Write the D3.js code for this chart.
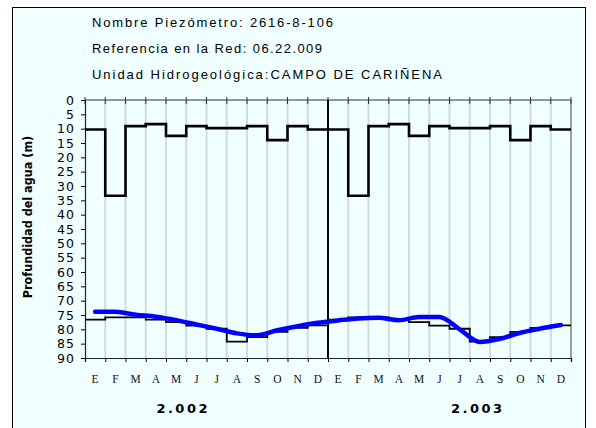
<!DOCTYPE html>
<html>
<head>
<meta charset="utf-8">
<script src="https://cdnjs.cloudflare.com/ajax/libs/d3/7.8.5/d3.min.js"></script>
<style>
  body { margin: 0; background: #fff; }
  svg { display: block; }
</style>
</head>
<body>
<div id="grafico"></div>
<script>
// datos
var cabecera = [
  "Nombre Piezómetro: 2616-8-106",
  "Referencia en la Red: 06.22.009",
  "Unidad Hidrogeológica:CAMPO DE CARIÑENA"
];
var meses = ["E","F","M","A","M","J","J","A","S","O","N","D",
             "E","F","M","A","M","J","J","A","S","O","N","D"];
var anios = ["2.002", "2.003"];
var yTicks = [0,5,10,15,20,25,30,35,40,45,50,55,60,65,70,75,80,85,90];

// escalon superior (grueso) y escalon inferior (fino), profundidad en m
var serieSuperior = [10.3,33.4,9.1,8.4,12.5,9.1,9.8,9.8,9.1,14.0,9.1,10.3,
                     10.3,33.4,9.1,8.4,12.5,9.1,9.8,9.8,9.1,14.0,9.1,10.3];
var serieInferior = [76.6,75.8,75.8,76.6,77.5,78.7,79.8,84.3,82.7,80.9,79.5,78.6,
                     76.6,75.8,75.8,76.6,77.5,78.7,79.8,84.3,82.7,80.9,79.5,78.6];
// profundidad medida
var nivel = [73.9,73.9,74.9,75.6,76.8,78.3,79.8,81.4,82.1,80.3,78.9,77.7,
             76.9,76.2,76.0,76.8,75.7,75.7,80.0,84.4,83.3,81.2,79.7,78.5];

var width = 596, height = 428;
var margin = {top: 100, right: 25, bottom: 70, left: 85};

var svg = d3.select("#grafico")
  .append("svg")
    .attr("width", width)
    .attr("height", height);

// marco exterior
svg.append("rect")
   .attr("x", 12.5)
   .attr("y", 7.5)
   .attr("width", 573)
   .attr("height", 440)
   .style("fill", "#f0ffff")
   .style("stroke", "#000");

// textos de cabecera
svg.selectAll(".cab")
   .data(cabecera)
   .enter().append("text")
     .attr("class", "cab")
     .attr("x", 92)
     .attr("y", function(d, i) { return 27 + i * 26; })
     .attr("textLength", function(d, i) { return [241, 230, 350][i]; })
     .attr("lengthAdjust", "spacing")
     .style("font-family", "Liberation Sans, Arial, sans-serif")
     .style("font-size", "13px")
     .style("fill", "#000")
     .text(function(d) { return d; });

var x = d3.scaleBand()
    .domain(d3.range(meses.length))
    .range([margin.left, width - margin.right]);
var xl = d3.scaleLinear()
    .domain([0, meses.length])
    .range([margin.left, width - margin.right]);
var y = d3.scaleLinear()
    .domain([0, 90])
    .range([margin.top, height - margin.bottom]);

var bordes = d3.range(meses.length + 1);

// rejilla vertical
svg.append("g")
   .selectAll("line")
   .data(bordes.slice(1, -1))
   .enter().append("line")
     .attr("x1", function(d) { return xl(d); })
     .attr("x2", function(d) { return xl(d); })
     .attr("y1", y(0))
     .attr("y2", y(90))
     .style("stroke", "#d2dada")
     .style("stroke-width", 2);

// borde derecho
svg.append("line")
   .attr("x1", xl(24)).attr("x2", xl(24))
   .attr("y1", y(0)).attr("y2", y(90))
   .style("stroke", "#808080")
   .style("stroke-width", 1.5);

// eje superior con marcas cruzadas
svg.append("line")
   .attr("x1", xl(0)).attr("x2", xl(24))
   .attr("y1", y(0)).attr("y2", y(0))
   .style("stroke", "#333")
   .style("stroke-width", 1.2);
svg.append("g")
   .selectAll("line")
   .data(bordes)
   .enter().append("line")
     .attr("x1", function(d) { return xl(d); })
     .attr("x2", function(d) { return xl(d); })
     .attr("y1", y(0) - 3)
     .attr("y2", y(0) + 4)
     .style("stroke", "#333");

// eje inferior
var ejeX = svg.append("g")
   .attr("transform", "translate(0," + y(90) + ")")
   .call(d3.axisBottom(xl).tickValues(bordes).tickSize(4).tickFormat(""));
ejeX.select(".domain").style("stroke", "#222").style("stroke-width", 1.2);

// etiquetas de meses
svg.append("g")
   .attr("transform", "translate(0," + y(90) + ")")
   .call(d3.axisBottom(x).tickSize(0).tickPadding(17).tickFormat(function(d) { return meses[d]; }))
   .call(function(g) { g.select(".domain").remove(); })
   .selectAll("text")
     .style("font-family", "Liberation Serif, Times New Roman, serif")
     .style("font-size", "11.5px")
     .style("fill", "#111");

// eje Y
var ejeY = svg.append("g")
   .attr("transform", "translate(" + margin.left + ",0)")
   .call(d3.axisLeft(y).tickValues(yTicks).tickSize(4).tickPadding(6));
ejeY.select(".domain").style("stroke", "#222").style("stroke-width", 1.2);
ejeY.selectAll("text")
   .style("font-family", "DejaVu Sans, Verdana, sans-serif")
   .style("font-size", "12.5px")
   .style("letter-spacing", "1px")
   .style("fill", "#000");

svg.append("text")
   .attr("transform", "translate(32,217) rotate(-90)")
   .attr("text-anchor", "middle")
   .style("font-family", "DejaVu Sans Condensed, sans-serif")
   .style("font-weight", "bold")
   .style("font-size", "12.5px")
   .text("Profundidad del agua (m)");

// etiquetas de anio
svg.selectAll(".anio")
   .data(anios)
   .enter().append("text")
     .attr("class", "anio")
     .attr("x", function(d, i) { return xl([4.85, 19.4][i]); })
     .attr("y", 413)
     .attr("text-anchor", "middle")
     .style("font-family", "DejaVu Sans, Verdana, sans-serif")
     .style("font-weight", "bold")
     .style("font-size", "13px")
     .style("letter-spacing", "2.5px")
     .text(function(d) { return d; });

// separador de anios
svg.append("line")
   .attr("x1", xl(12)).attr("x2", xl(12))
   .attr("y1", y(0)).attr("y2", y(90))
   .style("stroke", "#000")
   .style("stroke-width", 2);

// escalones
function escalon(valores) {
  var pts = valores.map(function(v, i) { return [x(i), y(v)]; });
  pts.push([x(valores.length - 1) + x.bandwidth(), y(valores[valores.length - 1])]);
  return d3.line().curve(d3.curveStepAfter)(pts);
}

svg.append("path")
   .attr("d", escalon(serieInferior))
   .style("fill", "none")
   .style("stroke", "#000")
   .style("stroke-width", 1.8);

svg.append("path")
   .attr("d", escalon(serieSuperior))
   .style("fill", "none")
   .style("stroke", "#000")
   .style("stroke-width", 2.6);

// linea de nivel
var linea = d3.line()
    .curve(d3.curveMonotoneX)
    .x(function(d, i) { return x(i) + x.bandwidth() / 2; })
    .y(function(d) { return y(d); });

svg.append("path")
   .attr("d", linea(nivel))
   .style("fill", "none")
   .style("stroke", "#0000ff")
   .style("stroke-width", 4.5)
   .style("stroke-linejoin", "round")
   .style("stroke-linecap", "round");
</script>
</body>
</html>
